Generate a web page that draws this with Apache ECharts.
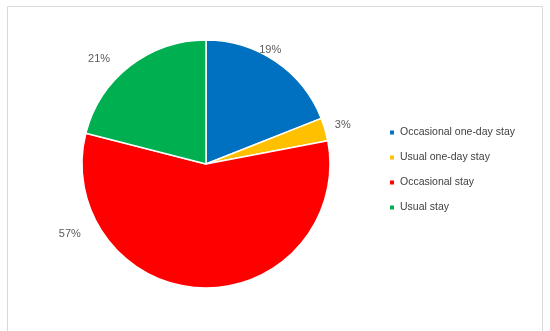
<!DOCTYPE html>
<html>
<head>
<meta charset="utf-8">
<script src="https://cdn.jsdelivr.net/npm/echarts@6/dist/echarts.min.js"></script>
<style>html,body{margin:0;padding:0;background:#fff}#c{width:550px;height:331px}</style>
</head>
<body>
<div id="c"></div>
<script>
const categories = ['Occasional one-day stay', 'Usual one-day stay', 'Occasional stay', 'Usual stay'];
const values = [19, 3, 57, 21];
const colors = ['#0070C0', '#FFC000', '#FF0000', '#00B050'];

const chart = echarts.init(document.getElementById('c'), null, {renderer: 'canvas'});
// label nudges (Excel "best fit" placement)
const labelNudges = [[-26, -5], [-3, -2], [-116, -62], [-10, -1]];
chart.setOption({
  animation: false,
  color: colors,
  graphic: [
    {type: 'polyline', shape: {points: [[7.5, 331], [7.5, 6.5], [542.5, 6.5], [542.5, 331]]},
     style: {stroke: '#d9d9d9', fill: null, lineWidth: 1}, silent: true}
  ],
  legend: {
    orient: 'vertical',
    left: 383,
    top: 122,
    itemWidth: 6,
    itemHeight: 6,
    itemGap: 14,
    icon: 'rect',
    textStyle: {color: '#404040', fontSize: 10.5, fontFamily: 'Liberation Sans'},
    data: categories
  },
  series: [{
    type: 'pie',
    center: [206, 164],
    radius: 124,
    startAngle: 90,
    clockwise: true,
    avoidLabelOverlap: false,
    itemStyle: {borderColor: '#fff', borderWidth: 1.5},
    label: {
      show: true,
      position: 'outside',
      formatter: '{d}%',
      color: '#595959',
      fontSize: 11,
      fontFamily: 'Liberation Sans'
    },
    labelLine: {show: false, length: 8, length2: 0},
    labelLayout: function (p) {
      const n = labelNudges[p.dataIndex];
      return {dx: n[0], dy: n[1]};
    },
    data: categories.map((n, i) => ({name: n, value: values[i]}))
  }]
});
</script>
</body>
</html>
